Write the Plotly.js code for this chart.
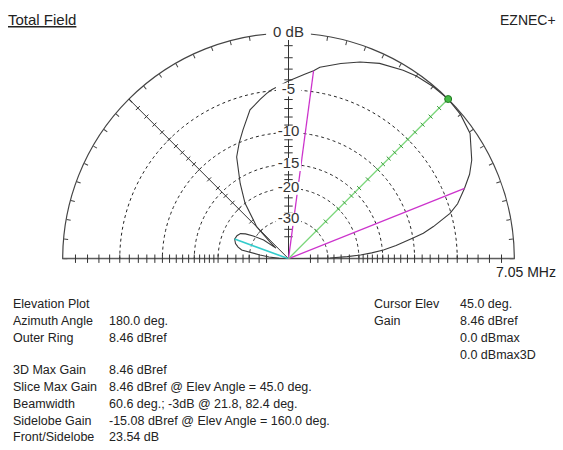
<!DOCTYPE html>
<html><head><meta charset="utf-8">
<script src="https://cdn.plot.ly/plotly-3.0.1.min.js"></script>
<style>html,body{margin:0;padding:0;background:#fff;overflow:hidden}#plot{width:563px;height:450px}</style>
</head><body><div id="plot"></div>
<script>
// ---- data ----
const elevAngles = [0,1,2,3,4,5.2,7,9.5,10.7,12.5,15.7,18,21.8,25,28.3,34.6,40,45,50,55,58.7,65,70,75,80.7,82.4,85,90,95.7,97.5,100,104.5,109.4,113,117,122.7,128.1,134.8,138,140,143,147.2,150,152.4,156,160,164,167,169.5,172.6,175,178,180];
const gainDbref = [-90.54,-20.64,-14.64,-11.14,-8.64,-6.34,-4.14,-1.44,-0.09,1.26,3.36,4.36,5.46,6.36,7.06,8.06,8.36,8.46,8.38,8.24,8.06,7.66,7.16,6.56,5.86,5.46,5.06,4.36,3.56,3.26,2.76,1.86,-0.14,-1.54,-3.24,-7.44,-11.54,-19.14,-29.54,-36.54,-25.54,-20.44,-17.54,-16.04,-15.34,-15.08,-15.74,-16.84,-18.24,-26.94,-33.54,-46.54,-90.54];
const outerRingDbref = 8.46;
const ringDb = [-5,-10,-15,-20,-30];
const ringLabels = ['-5','-10','-15','-20','-30'];
const scaleTickDb = [-1,-2,-3,-4,-5,-6,-7,-8,-9,-10,-11,-12,-13,-14,-15,-16,-17,-18,-19,-20,-22.5,-25,-27.5,-30,-35,-40];
const lineTickDb = [-1,-2,-3,-4,-5,-6,-7,-8,-9,-10,-12,-14,-16,-18,-20,-25,-30];
const cursorElev = 45.0, cursorGainDbref = 8.46;
const beamwidthEdges = [21.8, 82.4], beamwidthDb = -3;
const sidelobeElev = 160.0, sidelobeDbref = -15.08;
const refLineElev = 135;
const freqLabel = '7.05 MHz';
const infoLabels = ['Elevation Plot','Azimuth Angle','Outer Ring','','3D Max Gain','Slice Max Gain','Beamwidth','Sidelobe Gain','Front/Sidelobe'];
const infoValues = ['','180.0 deg.','8.46 dBref','','8.46 dBref','8.46 dBref @ Elev Angle = 45.0 deg.','60.6 deg.; -3dB @ 21.8, 82.4 deg.','-15.08 dBref @ Elev Angle = 160.0 deg.','23.54 dB'];
const cursorLabels = ['Cursor Elev','Gain','',''];
const cursorValues = ['45.0 deg.','8.46 dBref','0.0 dBmax','0.0 dBmax3D'];

// ARRL log scale: 2 dB per factor 0.89
const arrl = db => Math.pow(0.89, -db/2);
const rOf = g => arrl(g - outerRingDbref);

const FONT = 'Arial, "Liberation Sans", sans-serif';
const traces = [];
const halfCircle = []; for (let a = 0; a <= 180; a += 1) halfCircle.push(a);

// dashed rings
ringDb.forEach(d => traces.push({type:'scatterpolar', mode:'lines', theta:halfCircle, r:halfCircle.map(()=>arrl(d)),
  line:{color:'#222', width:1, dash:'3px,3px'}, hoverinfo:'skip'}));
// baseline
traces.push({type:'scatterpolar', mode:'lines', theta:[180,180,0], r:[1,0,1], line:{color:'#666', width:2}, hoverinfo:'skip'});
// scale ticks on baseline & vertical axis
const tr = scaleTickDb.map(arrl);
traces.push({type:'scatterpolar', mode:'markers', theta:tr.map(()=>0).concat(tr.map(()=>180)), r:tr.concat(tr),
  marker:{symbol:'line-ns', size:6, line:{color:'#333', width:1}}, hoverinfo:'skip'});
traces.push({type:'scatterpolar', mode:'markers', theta:tr.map(()=>90), r:tr,
  marker:{symbol:'line-ew', size:6, line:{color:'#333', width:1}}, hoverinfo:'skip'});
// 135 deg reference line with ticks
const lr = lineTickDb.map(arrl);
traces.push({type:'scatterpolar', mode:'lines', theta:[refLineElev,refLineElev], r:[0,1], line:{color:'#333', width:1}, hoverinfo:'skip'});
traces.push({type:'scatterpolar', mode:'markers', theta:lr.map(()=>refLineElev), r:lr,
  marker:{symbol:'line-ns', angle:-refLineElev, size:4, line:{color:'#333', width:1}}, hoverinfo:'skip'});
// pattern
traces.push({type:'scatterpolar', mode:'lines', theta:elevAngles, r:gainDbref.map(rOf), line:{color:'#3a3a3a', width:1.1}, hoverinfo:'skip'});
// beamwidth lines
beamwidthEdges.forEach(a => traces.push({type:'scatterpolar', mode:'lines', theta:[a,a], r:[0,arrl(beamwidthDb)], line:{color:'#cc33cc', width:1.3}, hoverinfo:'skip'}));
// sidelobe line
traces.push({type:'scatterpolar', mode:'lines', theta:[sidelobeElev,sidelobeElev], r:[0,rOf(sidelobeDbref)], line:{color:'#33cccc', width:1.6}, hoverinfo:'skip'});
// cursor line
const cr = rOf(cursorGainDbref);
traces.push({type:'scatterpolar', mode:'lines', theta:[cursorElev,cursorElev], r:[0,cr], line:{color:'#7ad67a', width:1.3}, hoverinfo:'skip'});
traces.push({type:'scatterpolar', mode:'markers', theta:lr.map(()=>cursorElev), r:lr,
  marker:{symbol:'line-ns', angle:-cursorElev, size:4, line:{color:'#3a9a3a', width:1}}, hoverinfo:'skip'});
traces.push({type:'scatterpolar', mode:'markers', theta:[cursorElev], r:[cr],
  marker:{symbol:'circle', size:7, color:'#44bb44', line:{color:'#227722', width:1}}, hoverinfo:'skip'});
// ring labels with white backing
traces.push({type:'scatterpolar', mode:'markers+text', theta:ringDb.map(()=>90), r:ringDb.map(arrl), text:ringLabels,
  textposition:'middle center', textfont:{family:FONT, size:15, color:'#333'},
  marker:{symbol:'line-ew', size:18, line:{color:'#fff', width:13}}, hoverinfo:'skip'});
traces.push({type:'scatterpolar', mode:'markers+text', theta:[90], r:[1], text:['0 dB'],
  textposition:'middle center', textfont:{family:FONT, size:15, color:'#333'},
  marker:{symbol:'line-ew', size:32, line:{color:'#fff', width:14}}, hoverinfo:'skip'});

const ann = [];
const A = (x,y,t,anchor,size) => ann.push({xref:'paper',yref:'paper',x:x/563,y:1-y/450,text:t,showarrow:false,
  xanchor:anchor,yanchor:'middle',font:{family:FONT,size:size,color:'#222'}});
A(6,20,'<u>Total Field</u>','left',15);
A(558,20,'EZNEC+','right',14);
A(558,272,freqLabel,'right',14);
const rowY = [304,321,338,355,370,387,404,421,437];
infoLabels.forEach((t,i)=>{ if(t) A(11,rowY[i],t,'left',12.5); });
infoValues.forEach((t,i)=>{ if(t) A(107,rowY[i],t,'left',12.5); });
cursorLabels.forEach((t,i)=>{ if(t) A(372,rowY[i],t,'left',12.5); });
cursorValues.forEach((t,i)=>{ if(t) A(458,rowY[i],t,'left',12.5); });

const layout = {
  width:563, height:450, margin:{l:0,r:0,t:0,b:0}, showlegend:false,
  paper_bgcolor:'#fff', plot_bgcolor:'#fff',
  polar:{
    domain:{x:[62.7/563, 514.3/563], y:[1-258.7/450, 1-32.9/450]},
    sector:[0,180], bgcolor:'rgba(0,0,0,0)',
    radialaxis:{range:[0,1], angle:90, showline:true, linecolor:'#333', linewidth:1, showgrid:false,
      ticks:'', showticklabels:false, layer:'below traces'},
    angularaxis:{showline:true, linecolor:'#444', linewidth:1.2, showgrid:false, ticks:'inside', ticklen:4,
      tickcolor:'#444', dtick:5, showticklabels:false, layer:'below traces'}
  },
  annotations:ann
};
Plotly.newPlot('plot', traces, layout, {staticPlot:true, displayModeBar:false});
</script></body></html>
